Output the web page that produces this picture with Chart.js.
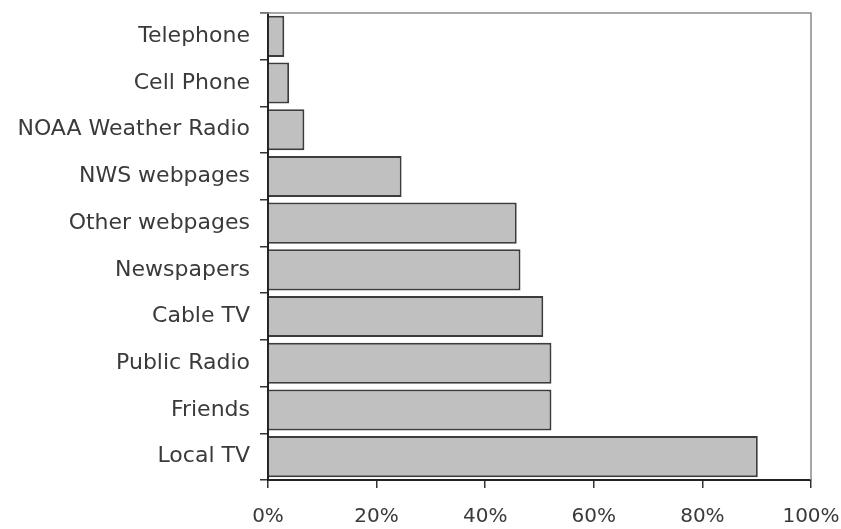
<!DOCTYPE html>
<html>
<head>
<meta charset="utf-8">
<script src="https://cdn.jsdelivr.net/npm/chart.js@4/dist/chart.umd.min.js"></script>
<style>
  html, body { margin: 0; padding: 0; background: #fff; }
  #wrap { width: 841px; height: 529px; position: relative; }
</style>
</head>
<body>
<div id="wrap"><canvas id="chart"></canvas></div>
<script>
  const categories = ["Telephone", "Cell Phone", "NOAA Weather Radio", "NWS webpages", "Other webpages",
    "Newspapers", "Cable TV", "Public Radio", "Friends", "Local TV"];
  const shares = [3.0, 3.9, 6.7, 24.6, 45.8, 46.5, 50.7, 52.2, 52.2, 90.2];
  const xTicks = [0, 20, 40, 60, 80, 100];

  Chart.defaults.font.family = "'DejaVu Sans', sans-serif";
  Chart.defaults.color = "#3a3a3a";

  // grey frame on the top and right of the plot
  const frame = {
    id: "frame",
    afterDraw(chart) {
      const { ctx, chartArea: a } = chart;
      ctx.save();
      ctx.strokeStyle = "#8a8a8a";
      ctx.lineWidth = 1.5;
      ctx.beginPath();
      ctx.moveTo(a.left - 8, a.top);
      ctx.lineTo(a.right, a.top);
      ctx.lineTo(a.right, a.bottom);
      ctx.stroke();
      ctx.restore();
    },
  };

  new Chart(document.getElementById("chart"), {
    type: "bar",
    data: {
      labels: categories,
      datasets: [
        {
          data: shares,
          backgroundColor: "#c0c0c0",
          borderColor: "#3c3c3c",
          borderWidth: 2,
          categoryPercentage: 0.88,
          barPercentage: 1.0,
        },
      ],
    },
    plugins: [frame],
    options: {
      indexAxis: "y",
      responsive: true,
      maintainAspectRatio: false,
      animation: false,
      layout: { padding: { top: 13, right: 30, left: 0, bottom: 0 } },
      plugins: { legend: { display: false }, tooltip: { enabled: false } },
      scales: {
        x: {
          min: 0,
          max: 100,
          afterBuildTicks(scale) {
            scale.ticks = xTicks.map((v) => ({ value: v }));
          },
          afterFit(scale) {
            scale.height = 49;
            scale.paddingLeft = 0;
            scale.paddingRight = 0;
          },
          ticks: {
            callback: (v) => v + "%",
            font: { size: 20 },
            padding: 17,
            maxRotation: 0,
          },
          grid: { drawOnChartArea: false, drawTicks: true, tickLength: 8, color: "#333", lineWidth: 1.5 },
          border: { display: true, color: "#222", width: 2 },
        },
        y: {
          offset: true,
          afterFit(scale) {
            scale.width = 268;
            scale.paddingTop = 0;
            scale.paddingBottom = 0;
          },
          ticks: { font: { size: 22 }, padding: 10 },
          grid: { offset: true, drawOnChartArea: false, drawTicks: true, tickLength: 8, color: "#333", lineWidth: 1.5 },
          border: { display: true, color: "#222", width: 2 },
        },
      },
    },
  });
</script>
</body>
</html>
